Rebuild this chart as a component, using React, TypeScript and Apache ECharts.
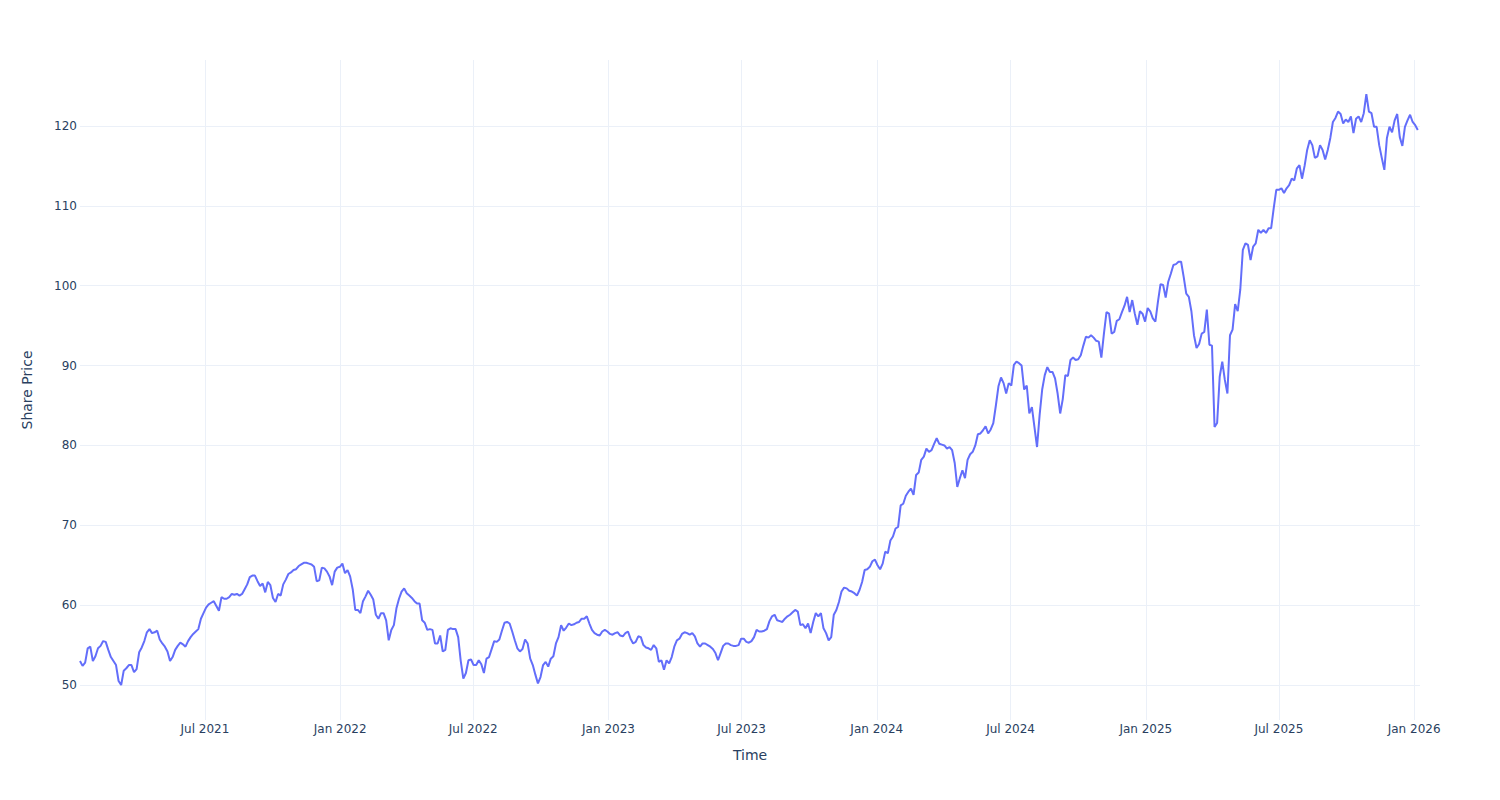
import React, { useEffect, useRef } from "react";
import * as echarts from "echarts";

const firstDay = [2021, 0, 12];
const closes2021 = [
  53.0, 52.4, 52.8, 54.6, 54.8, 53.0, 53.6, 54.6, 54.9, 55.5, 55.4, 54.4, 53.5, 53.0,
  52.5, 50.5, 50.0, 51.8, 52.1, 52.5, 52.5, 51.6, 52.0, 54.1, 54.7, 55.5, 56.6, 57.0,
  56.5, 56.6, 56.8, 55.7, 55.2, 54.8, 54.2, 53.0, 53.5, 54.4, 54.9, 55.3, 55.1, 54.8,
  55.5, 56.0, 56.4, 56.7, 57.0, 58.3, 59.0, 59.7, 60.1, 60.3, 60.5, 59.9, 59.3, 61.0,
  60.8, 60.8, 61.0, 61.4, 61.3, 61.4, 61.2, 61.4, 62.0, 62.6, 63.5, 63.7, 63.7, 63.0,
  62.4, 62.7, 61.6, 62.9, 62.5, 60.9, 60.4, 61.4, 61.2, 62.6, 63.2, 63.9, 64.1, 64.4,
  64.5, 64.9, 65.1, 65.3, 65.3, 65.2, 65.1, 64.8, 63.0, 63.1, 64.7, 64.6, 64.2, 63.6,
  62.5, 64.2, 64.7, 64.8,
];
const closes2022 = [
  65.2, 64.0, 64.4, 63.6, 62.0, 59.4, 59.4, 59.0, 60.5, 61.1, 61.8, 61.3, 60.7, 58.8,
  58.3, 59.0, 59.0, 58.1, 55.6, 56.9, 57.5, 59.6, 60.8, 61.7, 62.1, 61.5, 61.2, 60.9,
  60.5, 60.2, 60.2, 58.1, 57.8, 56.9, 57.0, 56.9, 55.2, 55.2, 56.2, 54.2, 54.4, 56.9,
  57.1, 57.0, 57.0, 56.0, 53.0, 50.8, 51.5, 53.1, 53.2, 52.5, 52.5, 53.1, 52.6, 51.5,
  53.3, 53.5, 54.5, 55.5, 55.4, 55.7, 56.8, 57.8, 57.9, 57.7, 56.7, 55.6, 54.6, 54.2,
  54.5, 55.7, 55.2, 53.3, 52.5, 51.3, 50.2, 51.0, 52.5, 52.9, 52.3, 53.3, 53.6, 55.2,
  56.0, 57.5, 56.8, 57.2, 57.7, 57.5, 57.6, 57.8, 57.9, 58.3, 58.3, 58.6, 57.7, 56.9,
  56.5, 56.3, 56.2, 56.7, 56.9, 56.7,
];
const closes2023 = [
  56.4, 56.3, 56.5, 56.6, 56.2, 56.1, 56.5, 56.7, 55.8, 55.2, 55.4, 56.1, 56.0, 55.0,
  54.7, 54.6, 54.4, 55.0, 54.6, 52.9, 53.1, 51.9, 53.1, 52.7, 53.5, 54.8, 55.6, 55.8,
  56.4, 56.6, 56.5, 56.3, 56.5, 56.1, 55.2, 54.8, 55.2, 55.2, 55.0, 54.8, 54.5, 54.0,
  53.1, 54.0, 54.9, 55.2, 55.2, 55.0, 54.9, 54.9, 55.0, 55.8, 55.8, 55.4, 55.3, 55.5,
  56.0, 56.9, 56.7, 56.7, 56.8, 57.0, 58.0, 58.6, 58.8, 58.1, 58.0, 57.9, 58.3, 58.6,
  58.8, 59.1, 59.4, 59.2, 57.5, 57.6, 57.1, 57.7, 56.5, 57.9, 59.0, 58.6, 59.0, 57.1,
  56.5, 55.6, 56.0, 58.8, 59.4, 60.4, 61.7, 62.2, 62.1, 61.8, 61.7, 61.5, 61.2, 61.9,
  62.9, 64.4, 64.5, 64.8, 65.5, 65.7,
];
const closes2024 = [
  65.0, 64.5, 65.2, 66.7, 66.5, 68.1, 68.6, 69.6, 69.8, 72.5, 72.7, 73.7, 74.2, 74.6,
  73.8, 76.3, 76.6, 78.2, 78.6, 79.6, 79.2, 79.4, 80.2, 80.9, 80.2, 80.1, 80.0, 79.6,
  79.8, 79.4, 77.8, 74.8, 75.9, 76.9, 75.9, 78.2, 78.9, 79.2, 80.0, 81.4, 81.5, 81.9,
  82.4, 81.5, 82.0, 82.8, 85.0, 87.4, 88.5, 87.8, 86.5, 87.8, 87.5, 90.1, 90.5, 90.3,
  90.0, 87.0, 87.5, 84.0, 84.8, 82.3, 79.8, 83.8, 87.0, 88.8, 89.8, 89.2, 89.2, 88.4,
  86.5, 84.0, 85.8, 88.8, 88.7, 90.7, 91.0, 90.7, 90.8, 91.3, 92.5, 93.6, 93.5, 93.8,
  93.5, 93.1, 93.0, 91.0, 94.0, 96.7, 96.5, 94.0, 94.2, 95.6, 95.8, 96.7, 97.5, 98.6,
  96.7, 98.2, 96.5, 95.1, 96.8, 96.5, 95.5,
];
const closes2025 = [
  97.2, 96.8, 95.9, 95.5, 98.0, 100.2, 100.1, 98.5, 100.5, 101.5, 102.6, 102.7, 103.0,
  103.0, 101.1, 99.0, 98.6, 96.8, 93.8, 92.2, 92.7, 94.0, 94.2, 97.0, 92.6, 92.5, 82.3,
  82.8, 88.6, 90.5, 88.2, 86.5, 93.8, 94.5, 97.7, 96.8, 99.5, 104.5, 105.3, 105.1,
  103.2, 104.9, 105.3, 107.0, 106.6, 107.0, 106.6, 107.2, 107.2, 109.7, 112.0, 112.0,
  112.2, 111.6, 112.2, 112.6, 113.4, 113.2, 114.7, 115.1, 113.4, 115.0, 117.0, 118.2,
  117.6, 116.0, 116.2, 117.6, 117.0, 115.8, 117.0, 118.5, 120.5, 121.0, 121.8, 121.5,
  120.3, 120.8, 120.5, 121.2, 119.1, 120.9, 121.2, 120.5, 121.6, 124.0, 121.8, 121.6,
  119.9, 119.9, 117.6, 116.0, 114.5, 118.5, 119.9, 119.2, 120.7, 121.5, 118.6, 117.5,
  119.9, 120.7, 121.4, 120.5, 120.1,
];
const closes2026 = [119.5];

const monthNames = ["Jan", "Feb", "Mar", "Apr", "May", "Jun", "Jul", "Aug", "Sep", "Oct", "Nov", "Dec"];
const xStart = [2021, 0, 12];
const xEnd = [2026, 0, 9];
const yRange = [45.62, 128.26];

const DAY = 86400000;
const STEP_DAYS = 3.5;

export default function App() {
  const ref = useRef<HTMLDivElement>(null);

  useEffect(() => {
    if (!ref.current) return;
    const chart = echarts.init(ref.current, undefined, { renderer: "svg" });
    const closes = [
      ...closes2021,
      ...closes2022,
      ...closes2023,
      ...closes2024,
      ...closes2025,
      ...closes2026,
    ];
    const t0 = new Date(firstDay[0], firstDay[1], firstDay[2]).getTime();
    const data = closes.map((v, i) => [t0 + i * STEP_DAYS * DAY, v]);
    const font = '"DejaVu Sans", verdana, arial, sans-serif';
    const textColor = "#2a3f5f";
    const gridColor = "#EBF0F8";
    chart.setOption({
      animation: false,
      backgroundColor: "#ffffff",
      textStyle: { fontFamily: font },
      grid: { left: 80, right: 80, top: 60, bottom: 80, containLabel: false },
      xAxis: {
        type: "time",
        min: new Date(xStart[0], xStart[1], xStart[2]).getTime(),
        max: new Date(xEnd[0], xEnd[1], xEnd[2]).getTime(),
        splitNumber: 10,
        minInterval: 180 * DAY,
        maxInterval: 186 * DAY,
        name: "Time",
        nameLocation: "middle",
        nameGap: 28,
        nameTextStyle: { fontSize: 14, color: textColor, fontFamily: font },
        axisLine: { show: false },
        axisTick: { show: false },
        axisLabel: {
          fontSize: 12,
          color: textColor,
          fontFamily: font,
          margin: 3,
          showMinLabel: false,
          showMaxLabel: false,
          formatter: (v: number) => {
            const d = new Date(v);
            return monthNames[d.getMonth()] + " " + d.getFullYear();
          },
        },
        splitLine: {
          show: true,
          showMinLine: false,
          showMaxLine: false,
          lineStyle: { color: gridColor, width: 1 },
        },
      },
      yAxis: {
        type: "value",
        min: yRange[0],
        max: yRange[1],
        minInterval: 10,
        maxInterval: 10,
        splitNumber: 8,
        name: "Share Price",
        nameLocation: "middle",
        nameGap: 46,
        nameTextStyle: { fontSize: 14, color: textColor, fontFamily: font },
        axisLine: { show: false },
        axisTick: { show: false },
        axisLabel: {
          fontSize: 12,
          color: textColor,
          fontFamily: font,
          margin: 3,
          showMinLabel: false,
          showMaxLabel: false,
        },
        splitLine: {
          show: true,
          showMinLine: false,
          showMaxLine: false,
          lineStyle: { color: gridColor, width: 1 },
        },
      },
      series: [
        {
          type: "line",
          data,
          showSymbol: false,
          symbol: "none",
          lineStyle: { color: "#636efa", width: 2 },
          itemStyle: { color: "#636efa" },
        },
      ],
    });
    return () => chart.dispose();
  }, []);

  return (
    <div
      ref={ref}
      style={{ position: "absolute", left: 0, top: 0, width: 1500, height: 800 }}
    />
  );
}
